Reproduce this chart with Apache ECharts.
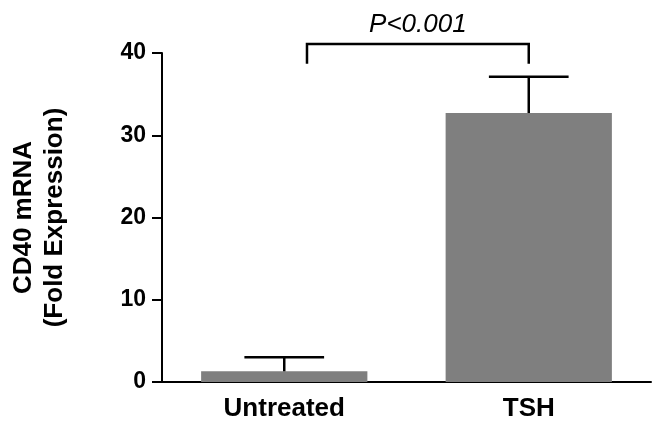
<!DOCTYPE html>
<html>
<head>
<meta charset="utf-8">
<script src="https://cdn.jsdelivr.net/npm/echarts@6/dist/echarts.min.js"></script>
<style>html,body{margin:0;padding:0;background:#fff}#c{width:660px;height:427px}</style>
</head>
<body>
<div id="c"></div>
<script>
const categories = ['Untreated', 'TSH'];
const means = [1.3, 32.7];
const errors = [1.7, 4.4];
const yTicks = [0, 10, 20, 30, 40];
const sigLabel = 'P<0.001';
const sigFrom = 'Untreated';
const sigTo = 'TSH';
const sigTop = 41.1;
const sigLegBottom = 38.7;

const chart = echarts.init(document.getElementById('c'));
const font = 'Liberation Sans, Arial, sans-serif';

chart.setOption({
  animation: false,
  backgroundColor: '#fff',
  grid: { left: 157, right: 9, top: 53, bottom: 45, containLabel: false },
  xAxis: {
    type: 'category',
    data: categories,
    axisLine: { lineStyle: { color: '#000', width: 2 } },
    axisTick: { alignWithLabel: true, length: 10, lineStyle: { color: '#000', width: 2 } },
    axisLabel: { color: '#000', fontSize: 26, fontWeight: 'bold', fontFamily: font, margin: 14 }
  },
  yAxis: {
    type: 'value',
    min: yTicks[0],
    max: yTicks[yTicks.length - 1],
    interval: 10,
    name: 'CD40 mRNA\n(Fold Expression)',
    nameLocation: 'middle',
    nameRotate: 90,
    nameGap: 92,
    nameTextStyle: { color: '#000', fontSize: 26, fontWeight: 'bold', fontFamily: font, lineHeight: 31 },
    splitLine: { show: false },
    axisLine: { show: true, lineStyle: { color: '#000', width: 2 } },
    axisTick: { show: true, length: 10, lineStyle: { color: '#000', width: 2 } },
    axisLabel: { color: '#000', fontSize: 23, fontWeight: 'bold', fontFamily: font, margin: 16 }
  },
  series: [
    {
      type: 'bar',
      data: means,
      barWidth: '68%',
      itemStyle: { color: '#7f7f7f' },
      z: 2
    },
    {
      type: 'custom',
      z: 3,
      data: categories.map((c, i) => [i, means[i], means[i] + errors[i]]),
      renderItem: function (params, api) {
        const x = api.coord([api.value(0), 0])[0];
        const yLo = api.coord([api.value(0), api.value(1)])[1];
        const yHi = api.coord([api.value(0), api.value(2)])[1];
        const bw = api.size([1, 0])[0];
        const half = bw * 0.163;
        const style = { stroke: '#000', lineWidth: 2.5, fill: null };
        return {
          type: 'group',
          children: [
            { type: 'line', shape: { x1: x, y1: yLo, x2: x, y2: yHi }, style: style },
            { type: 'line', shape: { x1: x - half, y1: yHi, x2: x + half, y2: yHi }, style: style }
          ]
        };
      }
    },
    {
      type: 'custom',
      z: 4,
      data: [[categories.indexOf(sigFrom), categories.indexOf(sigTo), sigTop, sigLegBottom]],
      renderItem: function (params, api) {
        const bw = api.size([1, 0])[0];
        const x1 = api.coord([api.value(0), 0])[0] + bw * 0.093;
        const x2 = api.coord([api.value(1), 0])[0];
        const yT = api.coord([0, api.value(2)])[1];
        const yB = api.coord([0, api.value(3)])[1];
        const style = { stroke: '#000', lineWidth: 2.5, fill: null };
        return {
          type: 'group',
          children: [
            { type: 'polyline', shape: { points: [[x1, yB], [x1, yT], [x2, yT], [x2, yB]] }, style: style },
            { type: 'text', x: (x1 + x2) / 2, y: yT - 6,
              style: { text: sigLabel, fill: '#000', font: 'italic 26px ' + font, align: 'center', verticalAlign: 'bottom' } }
          ]
        };
      }
    }
  ]
});
</script>
</body>
</html>
